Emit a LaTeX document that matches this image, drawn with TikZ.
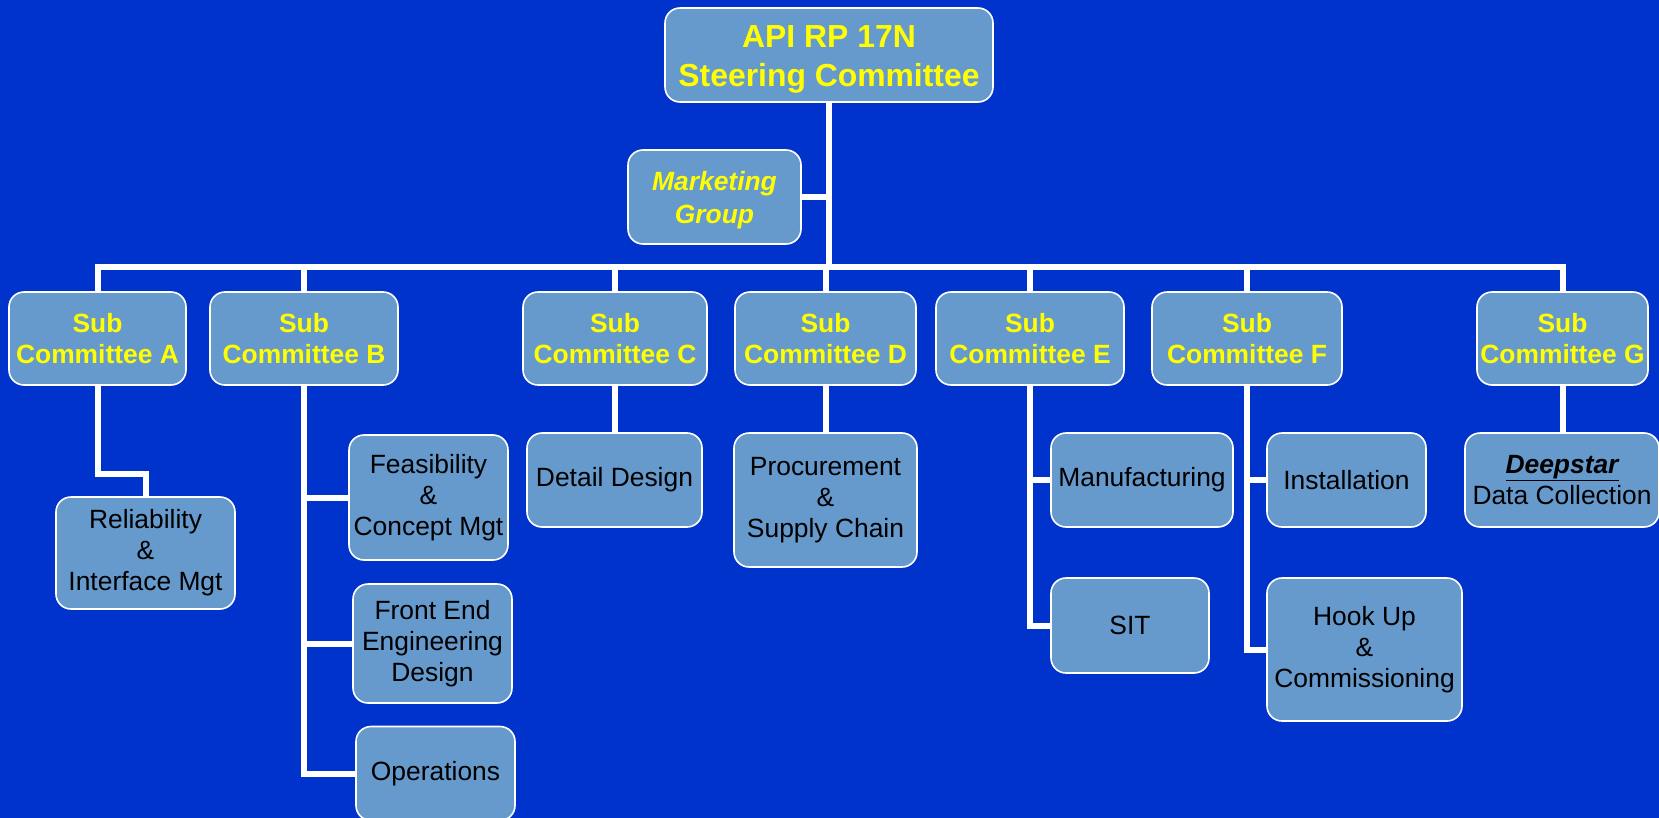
\documentclass[tikz,border=0pt]{standalone}
\usepackage{fontspec}
\setmainfont{Liberation Sans}
\definecolor{bg}{RGB}{0,51,204}
\definecolor{boxfill}{RGB}{102,153,204}
\definecolor{yel}{RGB}{255,255,0}
\tikzset{
  box/.style={draw=white, line width=1.6bp, fill=boxfill, rounded corners=15bp,
    align=center, inner sep=0pt, text=black, font=\fontsize{26.5}{31}\selectfont},
  head/.style={box, text=yel, font=\fontsize{26.5}{32}\selectfont\bfseries},
  link/.style={draw=white, line width=6bp}
}
\begin{document}
\begin{tikzpicture}[x=1bp,y=-1bp]
\fill[bg] (0,0) rectangle (1659,818);
\useasboundingbox (0,0) rectangle (1659,818);
% top
\node[head, font=\fontsize{32}{39}\selectfont\bfseries, text height=62bp, text depth=0bp, minimum width=328bp, minimum height=94bp] (top) at (829,55) {API RP 17N\\Steering Committee};
\node[head, font=\fontsize{26.5}{33}\selectfont\bfseries\itshape, text height=52bp, text depth=0bp, minimum width=173bp, minimum height=94bp] (mkt) at (714.5,197) {Marketing\\Group};
% sub committees
\node[head, minimum width=177bp, minimum height=93bp] (sa) at (97.5,338.5) {Sub\\Committee A};
\node[head, minimum width=188bp, minimum height=93bp] (sb) at (304,338.5) {Sub\\Committee B};
\node[head, minimum width=184bp, minimum height=93bp] (sc) at (615,338.5) {Sub\\Committee C};
\node[head, minimum width=181bp, minimum height=93bp] (sd) at (825.5,338.5) {Sub\\Committee D};
\node[head, minimum width=188bp, minimum height=93bp] (se) at (1030,338.5) {Sub\\Committee E};
\node[head, minimum width=190bp, minimum height=93bp] (sf) at (1247,338.5) {Sub\\Committee F};
\node[head, minimum width=171bp, minimum height=93bp] (sg) at (1562.5,338.5) {Sub\\Committee G};
% children
\node[box, minimum width=179bp, minimum height=112bp] (rel) at (145.5,553) {Reliability\\\&\\Interface Mgt};
\node[box, minimum width=159bp, minimum height=125bp] (fea) at (428.5,497.5) {Feasibility\\\&\\Concept Mgt};
\node[box, minimum width=159bp, minimum height=119bp] (fe) at (432.5,643.5) {Front End\\Engineering\\Design};
\node[box, minimum width=159bp, minimum height=94bp] (ops) at (435.5,773.5) {Operations};
\node[box, minimum width=175bp, minimum height=94bp] (dd) at (614.5,480) {Detail Design};
\node[box, minimum width=183bp, minimum height=134bp] (proc) at (825.5,500) {Procurement\\\&\\Supply Chain};
\node[box, minimum width=182bp, minimum height=94bp] (man) at (1142,480) {Manufacturing};
\node[box, minimum width=158bp, minimum height=95bp] (sit) at (1130,625.5) {SIT};
\node[box, minimum width=159bp, minimum height=94bp] (inst) at (1346.5,480) {Installation};
\node[box, minimum width=195bp, minimum height=143bp] (hook) at (1364.5,649.5) {Hook Up\\\&\\Commissioning};
\node[box, minimum width=194bp, minimum height=94bp] (deep) at (1562,480) {{\bfseries\itshape\underline{Deepstar}}\\Data Collection};
% connectors
\coordinate (busL) at (97.5,267);
\coordinate (busR) at (1562.5,267);
\path[link] (top.south) -- (top.south |- busL);
\path[link] (mkt.east) -- (mkt.east -| top.south);
\path[link] (sa.north) -- (busL) -- (busR) -- (sg.north);
\foreach \n in {sb,sc,sd,se,sf} { \path[link] (\n.north) -- (\n.north |- busL); }
\path[link] (sa.south) -- ++(0,88) -| (rel.north);
\path[link] (sb.south) -- (sb.south |- ops.west) -- (ops.west);
\path[link] (sb.south |- fea.west) -- (fea.west);
\path[link] (sb.south |- fe.west) -- (fe.west);
\path[link] (sc.south) -- (sc.south |- dd.north);
\path[link] (sd.south) -- (sd.south |- proc.north);
\path[link] (se.south) -- (se.south |- sit.west) -- (sit.west);
\path[link] (se.south |- man.west) -- (man.west);
\path[link] (sf.south) -- (sf.south |- hook.west) -- (hook.west);
\path[link] (sf.south |- inst.west) -- (inst.west);
\path[link] (sg.south) -- (sg.south |- deep.north);
\end{tikzpicture}
\end{document}
